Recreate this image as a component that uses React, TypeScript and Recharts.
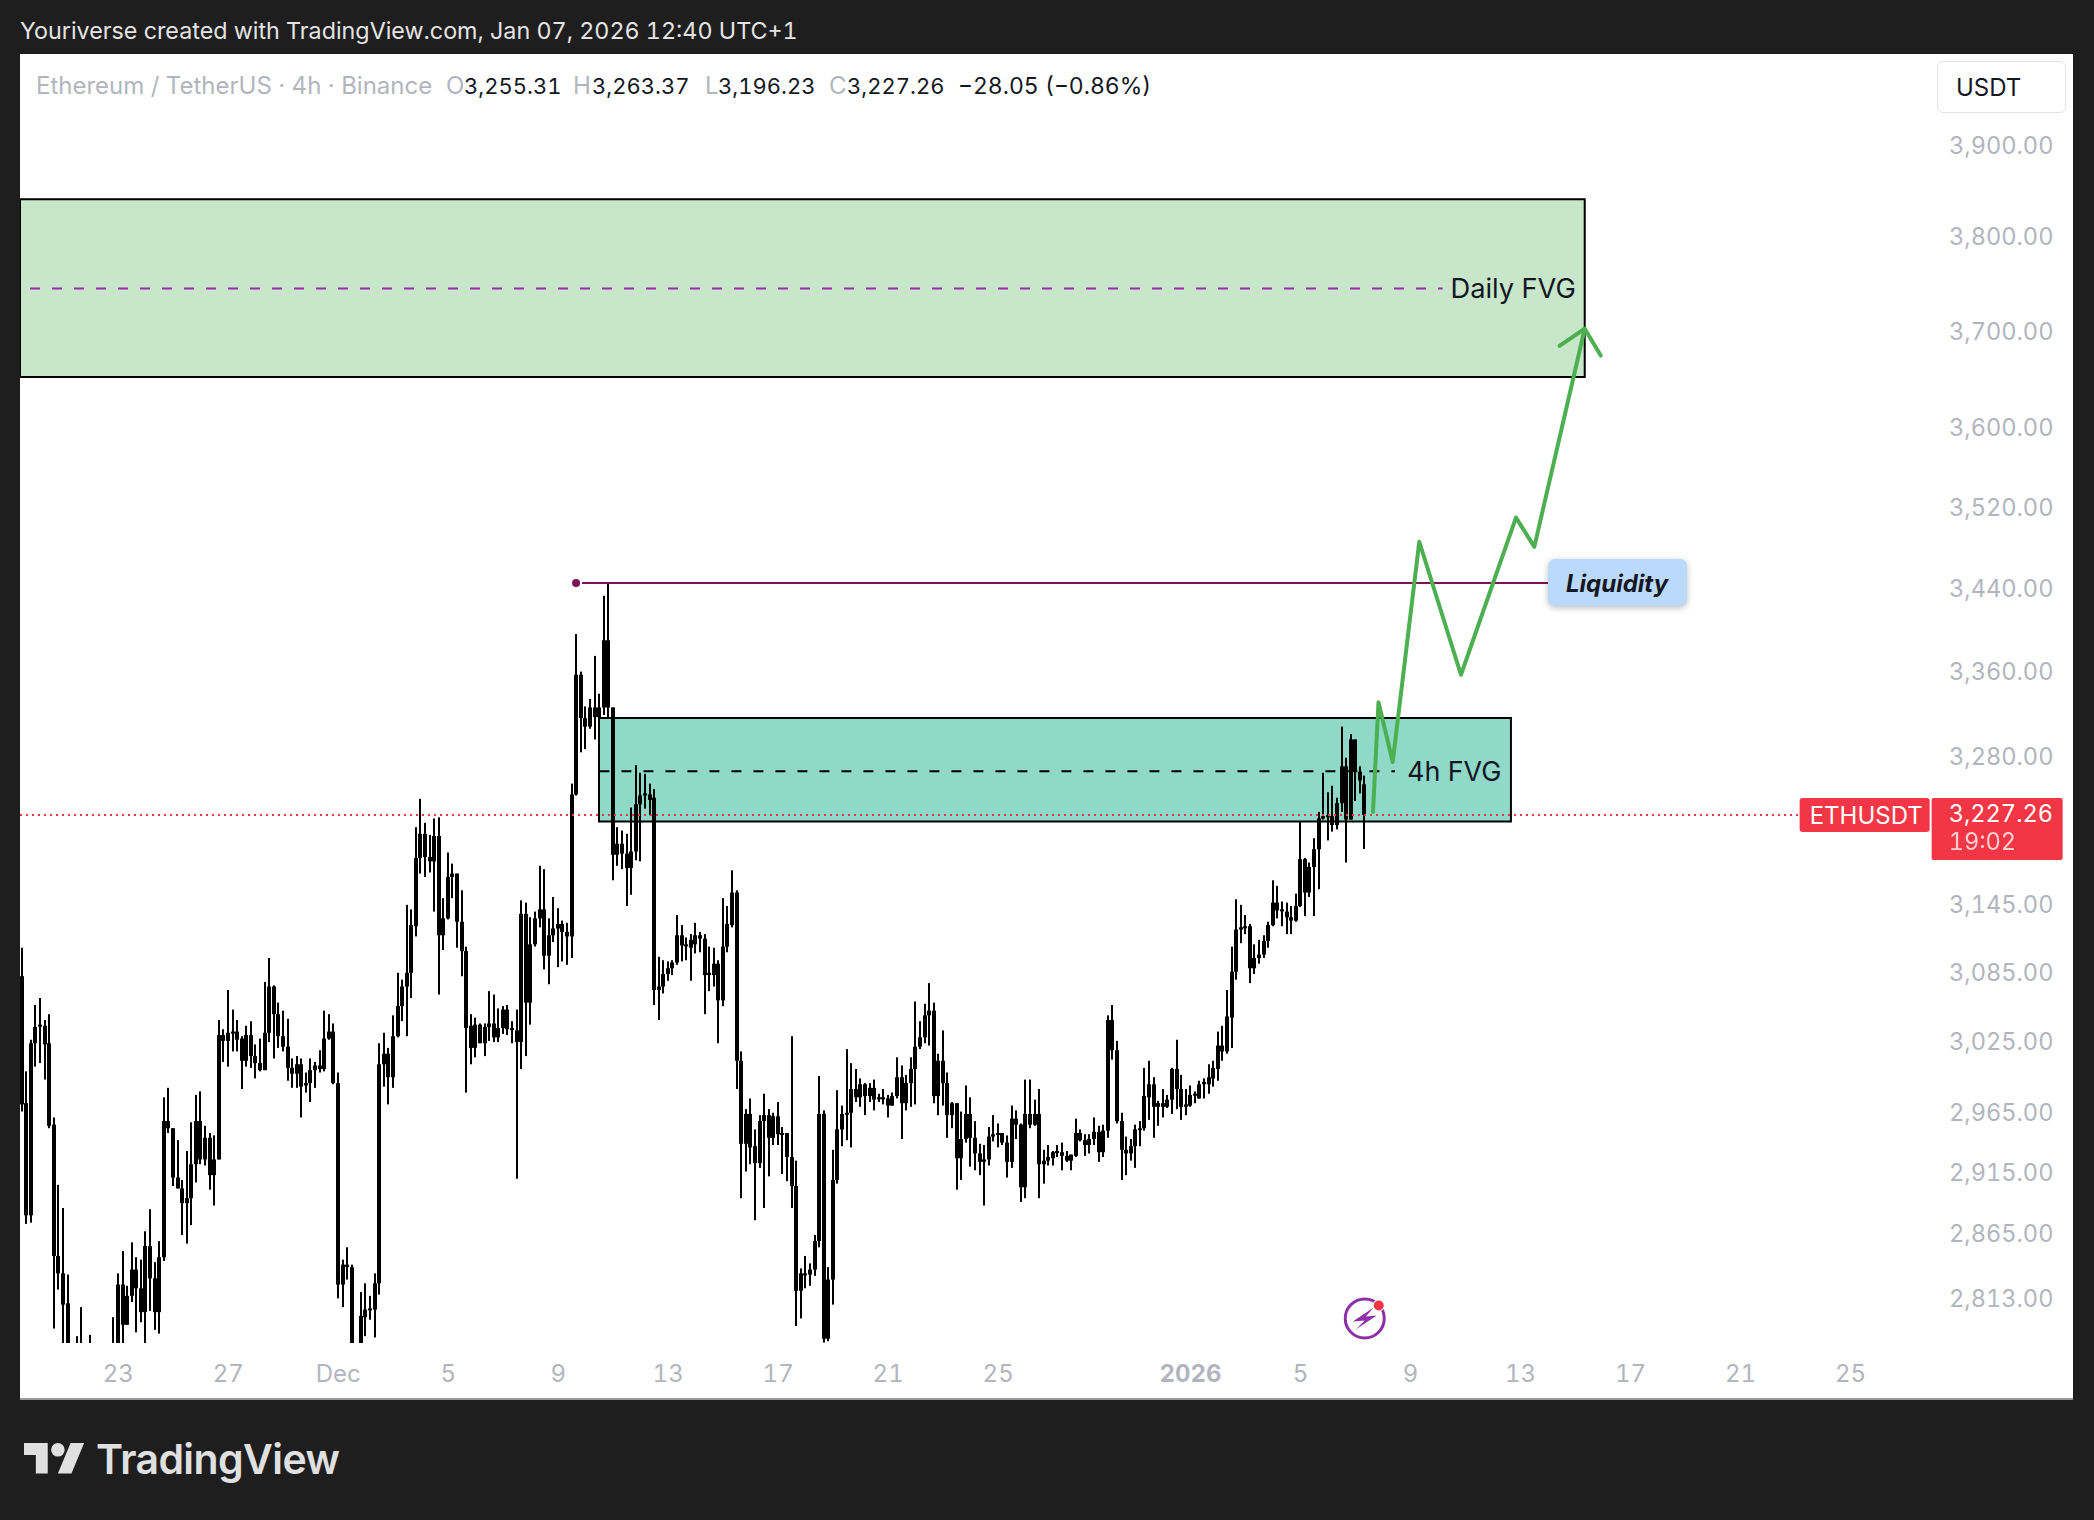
import {
  Bar,
  ComposedChart,
  Line,
  ReferenceArea,
  ReferenceDot,
  ReferenceLine,
  XAxis,
  YAxis,
} from "recharts"

// ETHUSDT 4h candles, index 0 is about Nov 19
const opens = [
  3083, 2974, 2881, 3025, 3040, 3040, 3025, 2956, 2848, 2834,
  2810, 2769, 2764, 2754, 2764, 2759, 2754, 2749, 2754, 2756,
  2754, 2769, 2825, 2793, 2816, 2837, 2822, 2803, 2856, 2830,
  2803, 2847, 2959, 2953, 2912, 2903, 2891, 2895, 2923, 2959,
  2927, 2945, 2914, 2927, 3032, 3027, 3034, 3035, 3029, 3010,
  3032, 3014, 3008, 3002, 3034, 3074, 3050, 3031, 3022, 3004,
  2999, 3007, 2989, 2991, 3002, 3006, 3003, 3029, 3035, 2991,
  2825, 2841, 2839, 2774, 2772, 2799, 2805, 2805, 2826, 3007,
  3016, 2996, 3031, 3057, 3074, 3086, 3127, 3188, 3210, 3189,
  3185, 3208, 3119, 3134, 3171, 3174, 3131, 3105, 3040, 3021,
  3041, 3025, 3039, 3042, 3030, 3038, 3054, 3038, 3036, 3026,
  3138, 3060, 3111, 3134, 3142, 3101, 3119, 3125, 3129, 3122,
  3118, 3246, 3358, 3317, 3309, 3327, 3318, 3327, 3391, 3327,
  3191, 3201, 3192, 3179, 3194, 3237, 3245, 3246, 3243, 3071,
  3074, 3085, 3090, 3095, 3119, 3110, 3115, 3111, 3119, 3116,
  3084, 3084, 3094, 3062, 3109, 3128, 3157, 3010, 2940, 2965,
  2938, 2924, 2959, 2964, 2945, 2963, 2948, 2949, 2929, 2905,
  2820, 2834, 2833, 2837, 2860, 2965, 2782, 2829, 2910, 2952,
  2965, 2966, 2986, 2979, 2990, 2980, 2987, 2978, 2979, 2978,
  2972, 2980, 2996, 2974, 2991, 3003, 3022, 3030, 3049, 3053,
  2980, 3010, 2991, 2964, 2974, 2928, 2944, 2965, 2945, 2932,
  2925, 2927, 2946, 2948, 2949, 2941, 2925, 2961, 2956, 2904,
  2965, 2956, 2965, 2923, 2926, 2928, 2933, 2933, 2930, 2926,
  2930, 2949, 2943, 2939, 2944, 2950, 2933, 2951, 3045, 3019,
  2959, 2935, 2932, 2938, 2952, 2953, 2979, 2990, 2971, 2974,
  2971, 2977, 3003, 2986, 2971, 2972, 2981, 2978, 2990, 2990,
  2995, 3003, 3023, 3018, 3047, 3087, 3124, 3126, 3127, 3090,
  3099, 3102, 3114, 3128, 3148, 3141, 3140, 3135, 3132, 3145,
  3187, 3157, 3180, 3196, 3224, 3226, 3226, 3218, 3238, 3272,
  3223, 3297, 3267, 3255.31,
]
const closes = [
  2973, 2881, 3025, 3039, 3041, 3024, 2955, 2848, 2834, 2809,
  2769, 2764, 2754, 2764, 2759, 2754, 2749, 2754, 2756, 2754,
  2769, 2825, 2793, 2816, 2837, 2822, 2803, 2856, 2830, 2803,
  2847, 2959, 2953, 2912, 2903, 2891, 2895, 2923, 2959, 2927,
  2945, 2914, 2927, 3032, 3027, 3034, 3035, 3028, 3010, 3032,
  3014, 3008, 3002, 3034, 3074, 3050, 3031, 3022, 3004, 2999,
  3007, 2988, 2991, 3002, 3006, 3003, 3029, 3035, 2991, 2825,
  2841, 2839, 2774, 2772, 2800, 2805, 2806, 2826, 3007, 3016,
  2996, 3031, 3057, 3074, 3086, 3128, 3188, 3210, 3189, 3185,
  3208, 3119, 3134, 3171, 3174, 3131, 3105, 3038, 3021, 3041,
  3025, 3039, 3042, 3030, 3038, 3054, 3037, 3037, 3026, 3138,
  3060, 3111, 3134, 3142, 3101, 3119, 3125, 3129, 3122, 3118,
  3246, 3358, 3317, 3309, 3327, 3318, 3327, 3391, 3327, 3191,
  3201, 3192, 3179, 3194, 3237, 3245, 3247, 3241, 3071, 3074,
  3085, 3090, 3095, 3119, 3110, 3111, 3108, 3119, 3116, 3084,
  3086, 3094, 3062, 3109, 3129, 3157, 3010, 2940, 2965, 2937,
  2924, 2959, 2964, 2945, 2963, 2948, 2949, 2929, 2905, 2820,
  2834, 2833, 2837, 2860, 2965, 2782, 2829, 2910, 2952, 2965,
  2966, 2986, 2979, 2990, 2980, 2987, 2977, 2979, 2978, 2972,
  2980, 2996, 2974, 2991, 3003, 3022, 3030, 3049, 3053, 2980,
  3010, 2991, 2964, 2974, 2928, 2944, 2965, 2945, 2932, 2925,
  2927, 2946, 2948, 2949, 2941, 2925, 2961, 2956, 2904, 2965,
  2956, 2965, 2923, 2926, 2929, 2933, 2934, 2930, 2926, 2931,
  2949, 2943, 2939, 2944, 2950, 2933, 2951, 3045, 3019, 2959,
  2935, 2932, 2938, 2952, 2953, 2980, 2990, 2971, 2974, 2971,
  2977, 3003, 2986, 2971, 2973, 2981, 2982, 2990, 2992, 2996,
  3004, 3023, 3018, 3048, 3087, 3124, 3126, 3127, 3090, 3099,
  3102, 3114, 3128, 3148, 3141, 3142, 3135, 3132, 3145, 3187,
  3157, 3180, 3196, 3224, 3226, 3227, 3218, 3238, 3272, 3223,
  3297, 3267, 3259, 3227.26,
]
const highs = [
  3108, 3001, 3028, 3058, 3064, 3045, 3050, 2962, 2906, 2887,
  2833, 2776, 2784, 2807, 2774, 2785, 2769, 2772, 2774, 2776,
  2799, 2834, 2852, 2824, 2859, 2847, 2845, 2868, 2886, 2843,
  2860, 2979, 2987, 2953, 2943, 2910, 2934, 2958, 2981, 2984,
  2955, 2949, 2947, 3045, 3037, 3071, 3054, 3045, 3031, 3040,
  3044, 3024, 3029, 3078, 3099, 3075, 3060, 3053, 3046, 3012,
  3014, 3012, 3000, 3012, 3009, 3019, 3053, 3050, 3042, 3000,
  2845, 2855, 2841, 2778, 2819, 2826, 2816, 2834, 3025, 3034,
  3021, 3049, 3086, 3080, 3146, 3142, 3216, 3242, 3220, 3209,
  3224, 3225, 3152, 3193, 3183, 3174, 3159, 3109, 3050, 3047,
  3042, 3042, 3070, 3067, 3055, 3057, 3058, 3044, 3054, 3150,
  3148, 3135, 3140, 3181, 3178, 3134, 3153, 3143, 3132, 3130,
  3256, 3397, 3361, 3328, 3335, 3376, 3340, 3434, 3447, 3327,
  3216, 3213, 3210, 3234, 3273, 3266, 3265, 3256, 3251, 3100,
  3097, 3096, 3097, 3137, 3128, 3117, 3120, 3130, 3122, 3120,
  3109, 3108, 3097, 3152, 3145, 3177, 3159, 3018, 2969, 2978,
  2952, 2964, 2982, 2969, 2966, 2975, 2954, 2949, 3031, 2926,
  2838, 2848, 2842, 2865, 2997, 2968, 2839, 2935, 2985, 2972,
  3020, 3008, 3003, 2995, 2991, 2991, 2994, 2982, 2986, 2981,
  2983, 3013, 3006, 2998, 3013, 3061, 3044, 3059, 3077, 3060,
  3016, 3036, 3000, 2975, 2974, 2967, 2989, 2979, 2959, 2940,
  2939, 2954, 2964, 2957, 2949, 2947, 2972, 2968, 2957, 2994,
  2994, 2977, 2986, 2935, 2939, 2934, 2939, 2941, 2934, 2931,
  2961, 2952, 2948, 2948, 2962, 2955, 2956, 3049, 3058, 3027,
  2966, 2946, 2944, 2956, 2959, 3004, 3010, 2996, 2976, 2986,
  2981, 3004, 3028, 2998, 2986, 2989, 2984, 2993, 2995, 3007,
  3010, 3035, 3040, 3071, 3109, 3151, 3146, 3137, 3129, 3111,
  3115, 3119, 3131, 3168, 3163, 3149, 3148, 3145, 3156, 3221,
  3188, 3184, 3206, 3230, 3266, 3248, 3254, 3243, 3309, 3280,
  3302, 3297, 3272, 3263.37,
]
const lows = [
  2967, 2874, 2875, 3005, 3008, 2994, 2953, 2790, 2821, 2764,
  2754, 2749, 2744, 2739, 2734, 2739, 2729, 2734, 2739, 2742,
  2744, 2754, 2764, 2793, 2811, 2787, 2795, 2769, 2804, 2789,
  2786, 2844, 2949, 2905, 2903, 2865, 2858, 2873, 2908, 2923,
  2922, 2902, 2889, 2927, 3009, 3005, 3018, 3018, 2986, 3005,
  3004, 2995, 3001, 3002, 3026, 3012, 3021, 3018, 2993, 2987,
  2987, 2962, 2983, 2975, 2987, 3000, 3001, 3028, 2990, 2814,
  2807, 2829, 2764, 2759, 2764, 2784, 2797, 2783, 2817, 2988,
  2973, 2987, 3030, 3044, 3031, 3064, 3118, 3174, 3171, 3175,
  3140, 3067, 3106, 3133, 3152, 3108, 3083, 2983, 3007, 3013,
  3025, 3014, 3027, 3026, 3026, 3033, 3032, 3025, 2911, 3003,
  3014, 3041, 3109, 3126, 3089, 3076, 3113, 3091, 3096, 3093,
  3099, 3245, 3285, 3288, 3307, 3297, 3318, 3320, 3318, 3168,
  3181, 3178, 3145, 3155, 3186, 3185, 3233, 3227, 3058, 3045,
  3068, 3079, 3084, 3093, 3096, 3097, 3079, 3103, 3104, 3050,
  3070, 3074, 3025, 3057, 3104, 3126, 2986, 2895, 2917, 2923,
  2877, 2920, 2887, 2913, 2939, 2939, 2915, 2909, 2887, 2792,
  2798, 2822, 2824, 2832, 2855, 2779, 2780, 2809, 2907, 2938,
  2943, 2937, 2975, 2971, 2964, 2975, 2968, 2975, 2973, 2962,
  2972, 2978, 2944, 2968, 2971, 2973, 3020, 3025, 3023, 2974,
  2964, 2972, 2945, 2953, 2902, 2910, 2941, 2921, 2918, 2914,
  2889, 2922, 2942, 2937, 2939, 2912, 2920, 2944, 2892, 2895,
  2953, 2955, 2895, 2907, 2922, 2922, 2929, 2918, 2925, 2918,
  2929, 2942, 2930, 2932, 2939, 2925, 2929, 2945, 3011, 2957,
  2910, 2914, 2926, 2920, 2938, 2951, 2960, 2945, 2955, 2962,
  2970, 2965, 2969, 2960, 2964, 2971, 2974, 2978, 2978, 2982,
  2988, 2993, 3010, 3016, 3021, 3080, 3112, 3120, 3077, 3085,
  3094, 3099, 3108, 3127, 3134, 3127, 3120, 3120, 3131, 3144,
  3136, 3153, 3136, 3160, 3223, 3204, 3212, 3214, 3230, 3184,
  3223, 3240, 3247, 3196.23,
]

const priceTicks = [2813, 2865, 2915, 2965, 3025, 3085, 3145, 3280, 3360, 3440, 3520, 3600, 3700, 3800, 3900]
const dateTicks = [21, 45, 69, 93, 117, 141, 165, 189, 213, 255, 279, 303, 327, 351, 375, 399]
const dateLabels = ["23", "27", "Dec", "5", "9", "13", "17", "21", "25", "2026", "5", "9", "13", "17", "21", "25"]

const lastPrice = 3227.26
const dailyFvg = { from: -0.44, to: 341, top: 3842.6, bottom: 3653.6, mid: 3746.6 }
const fourHourFvg = { from: 125.9, to: 324.9, top: 3317.1, bottom: 3221.3, mid: 3267.4 }
const liquidityPrice = 3446.5

const projectionTimes = [294.8, 296, 299.1, 304.9, 314, 326, 330, 341]
const projectionPrices = [3230, 3332, 3276, 3487, 3358, 3511, 3482, 3704]
const arrowTimes = [335.5, 341, 344.5]
const arrowPrices = [3686, 3704, 3676]

const candles = opens.map((open, t) => ({ t, open, close: closes[t], high: highs[t], low: lows[t] }))
const projection = projectionTimes.map((t, i) => ({ t, price: projectionPrices[i] }))
const arrow = arrowTimes.map((t, i) => ({ t, price: arrowPrices[i] }))

const FONT = "Inter, sans-serif"
const GREY = "#b2b5be"
const RED = "#f23645"
const GREEN = "#4caf50"
const MAROON = "#7e1257"

function Candle(props: any) {
  const { x, y, width, height, payload } = props
  const { high, low, open, close } = payload
  // y axis is logarithmic, so body edges are placed along the wick by log ratio
  const yOf = (p: number) => y + (height * Math.log(high / p)) / Math.log(high / low)
  const top = yOf(Math.max(open, close))
  const bottom = yOf(Math.min(open, close))
  const cx = Math.round(x + width / 2)
  return (
    <g fill="#000">
      <rect x={cx - 1} y={y} width={2} height={height} />
      <rect x={cx - 2} y={top} width={4} height={Math.max(bottom - top, 2)} />
    </g>
  )
}

function DateTick({ x, y, payload }: any) {
  const label = dateLabels[dateTicks.indexOf(payload.value)]
  return (
    <text x={x} y={y + 31} textAnchor="middle" fontFamily={FONT} fontSize={24} fill={GREY} fontWeight={label === "2026" ? 700 : 400}>
      {label}
    </text>
  )
}

function PriceTick({ x, y, payload }: any) {
  return (
    <text x={x} y={y + 7} textAnchor="start" fontFamily={FONT} fontSize={23.6} fill={GREY}>
      {payload.value.toLocaleString("en-US", { minimumFractionDigits: 2 })}
    </text>
  )
}

function LastPriceLabel({ cx, cy }: any) {
  return (
    <g fontFamily={FONT} fill="#fff">
      <rect x={cx} y={cy - 17} width={130} height={34} rx={3} fill={RED} />
      <text x={cx + 10} y={cy + 9} fontSize={24}>ETHUSDT</text>
      <rect x={cx + 132} y={cy - 17} width={131} height={62} rx={2} fill={RED} />
      <text x={cx + 149} y={cy + 7} fontSize={23.6}>3,227.26</text>
      <text x={cx + 149} y={cy + 35} fontSize={23.6} opacity={0.75}>19:02</text>
    </g>
  )
}

function LiquidityLabel({ cx, cy }: any) {
  return (
    <g>
      <rect x={cx} y={cy - 24} width={139} height={47} rx={7} fill="#bbd9fb" style={{ filter: "drop-shadow(0 2px 3px rgba(0,0,0,0.25))" }} />
      <text x={cx + 69} y={cy + 9} textAnchor="middle" fontFamily={FONT} fontSize={24} fontWeight={700} fontStyle="italic" fill="#131722">
        Liquidity
      </text>
    </g>
  )
}

function FlashIcon({ cx, cy }: any) {
  return (
    <g>
      <circle cx={cx} cy={cy} r={19.5} fill="#fff" stroke="#8e2fa8" strokeWidth={3} />
      <path d={`M${cx + 9} ${cy - 11} L${cx - 12} ${cy + 3} L${cx} ${cy + 2} L${cx - 9} ${cy + 11} L${cx + 12} ${cy - 3} L${cx + 1} ${cy - 2} Z`} fill="#8e2fa8" />
      <circle cx={cx + 14} cy={cy - 13} r={6} fill="#fff" />
      <circle cx={cx + 14} cy={cy - 13} r={5} fill={RED} />
    </g>
  )
}

function Legend() {
  const row = [
    { left: 36, size: 24, text: "Ethereum / TetherUS · 4h · Binance", color: GREY },
    { left: 446, size: 24, text: "O", color: GREY },
    { left: 464, size: 22, text: "3,255.31", color: "#131722" },
    { left: 573, size: 24, text: "H", color: GREY },
    { left: 592, size: 22, text: "3,263.37", color: "#131722" },
    { left: 705, size: 24, text: "L", color: GREY },
    { left: 718, size: 22, text: "3,196.23", color: "#131722" },
    { left: 829, size: 24, text: "C", color: GREY },
    { left: 847, size: 22, text: "3,227.26", color: "#131722" },
    { left: 958, size: 23, text: "−28.05 (−0.86%)", color: "#131722" },
  ]
  return (
    <>
      {row.map((r) => (
        <span key={r.left} style={{ position: "absolute", left: r.left, top: 72, fontSize: r.size, lineHeight: "28px", color: r.color, whiteSpace: "nowrap" }}>
          {r.text}
        </span>
      ))}
    </>
  )
}

export default function App() {
  return (
    <div style={{ position: "absolute", left: 0, top: 0, width: 2094, height: 1520, background: "#1e1e1e", overflow: "hidden", fontFamily: FONT, fontVariantNumeric: "tabular-nums" }}>
      <div style={{ position: "absolute", left: 20, top: 17, fontSize: 23.3, lineHeight: "28px", color: "#e4e4e4", whiteSpace: "nowrap" }}>
        Youriverse created with TradingView.com, Jan 07, 2026 12:40 UTC+1
      </div>

      <div style={{ position: "absolute", left: 20, top: 54, width: 2053, height: 1346, boxSizing: "border-box", background: "#fff", borderBottom: "2px solid #9a9a9a" }}>
        <ComposedChart
          width={2053}
          height={1344}
          data={candles}
          margin={{ top: 0, right: 0, bottom: 0, left: 0 }}
          barGap={0}
        >
          <XAxis
            dataKey="t"
            type="number"
            domain={[-0.44, 417]}
            allowDataOverflow
            ticks={dateTicks}
            interval={0}
            height={55}
            axisLine={false}
            tickLine={false}
            tick={<DateTick />}
          />
          <YAxis
            orientation="right"
            scale="log"
            type="number"
            domain={[2778.6, 4004]}
            allowDataOverflow
            ticks={priceTicks}
            interval={0}
            width={140}
            axisLine={false}
            tickLine={false}
            tickSize={0}
            tickMargin={16}
            tick={<PriceTick />}
          />

          <ReferenceArea
            x1={dailyFvg.from}
            x2={dailyFvg.to}
            y1={dailyFvg.bottom}
            y2={dailyFvg.top}
            fill="#c8e6c9"
            fillOpacity={1}
            stroke="#000"
            strokeWidth={2}
          />
          <ReferenceArea
            x1={fourHourFvg.from}
            x2={fourHourFvg.to}
            y1={fourHourFvg.bottom}
            y2={fourHourFvg.top}
            fill="#90d9c9"
            fillOpacity={1}
            stroke="#000"
            strokeWidth={2}
          />
          <ReferenceLine
            segment={[{ x: 1.75, y: dailyFvg.mid }, { x: 310, y: dailyFvg.mid }]}
            stroke="#9c27b0"
            strokeWidth={2}
            strokeDasharray="10 12"
          />
          <ReferenceLine
            segment={[{ x: 126, y: fourHourFvg.mid }, { x: 299.6, y: fourHourFvg.mid }]}
            stroke="#000"
            strokeWidth={2}
            strokeDasharray="10 12"
          />
          <ReferenceLine
            segment={[{ x: -0.44, y: lastPrice }, { x: 387.9, y: lastPrice }]}
            stroke={RED}
            strokeWidth={2}
            strokeDasharray="2 4"
          />
          <ReferenceLine
            segment={[{ x: 122.2, y: liquidityPrice }, { x: 333, y: liquidityPrice }]}
            stroke={MAROON}
            strokeWidth={2}
          />

          <Bar
            dataKey={(d: any) => [d.low, d.high]}
            barSize={4}
            shape={<Candle />}
            isAnimationActive={false}
          />

          <Line data={projection} dataKey="price" stroke={GREEN} strokeWidth={4} strokeLinejoin="round" strokeLinecap="round" dot={false} activeDot={false} isAnimationActive={false} />
          <Line data={arrow} dataKey="price" stroke={GREEN} strokeWidth={4} strokeLinejoin="round" strokeLinecap="round" dot={false} activeDot={false} isAnimationActive={false} />

          <ReferenceDot x={120.9} y={liquidityPrice} r={4} fill={MAROON} stroke="none" />
          <ReferenceDot x={333} y={liquidityPrice} shape={<LiquidityLabel />} />
          <ReferenceDot x={387.9} y={lastPrice} shape={<LastPriceLabel />} />
          <ReferenceDot x={293} y={2798} shape={<FlashIcon />} />
          <ReferenceDot
            x={311.7}
            y={dailyFvg.mid}
            shape={({ cx, cy }: any) => (
              <text x={cx} y={cy + 10} fontFamily={FONT} fontSize={27.3} fill="#131722">Daily FVG</text>
            )}
          />
          <ReferenceDot
            x={302.2}
            y={fourHourFvg.mid}
            shape={({ cx, cy }: any) => (
              <text x={cx} y={cy + 10} fontFamily={FONT} fontSize={27} fill="#131722">4h FVG</text>
            )}
          />
        </ComposedChart>
      </div>

      <Legend />

      <div style={{ position: "absolute", left: 1937, top: 61, width: 129, height: 52, boxSizing: "border-box", border: "1px solid #e0e3eb", borderRadius: 6, background: "#fff", color: "#131722", fontSize: 24, lineHeight: "52px", paddingLeft: 18 }}>
        USDT
      </div>

      <svg style={{ position: "absolute", left: 24, top: 1436 }} width={61} height={48} viewBox="0 0 36 28" fill="#e0e0e0">
        <path d="M14 22H7V11H0V4h14v18zM28 22h-8l7.5-18h8L28 22z" />
        <circle cx="20" cy="8" r="4" />
      </svg>
      <div style={{ position: "absolute", left: 96, top: 1434, fontSize: 41, lineHeight: "50px", fontWeight: 600, color: "#e0e0e0", letterSpacing: -0.6 }}>
        TradingView
      </div>
    </div>
  )
}
